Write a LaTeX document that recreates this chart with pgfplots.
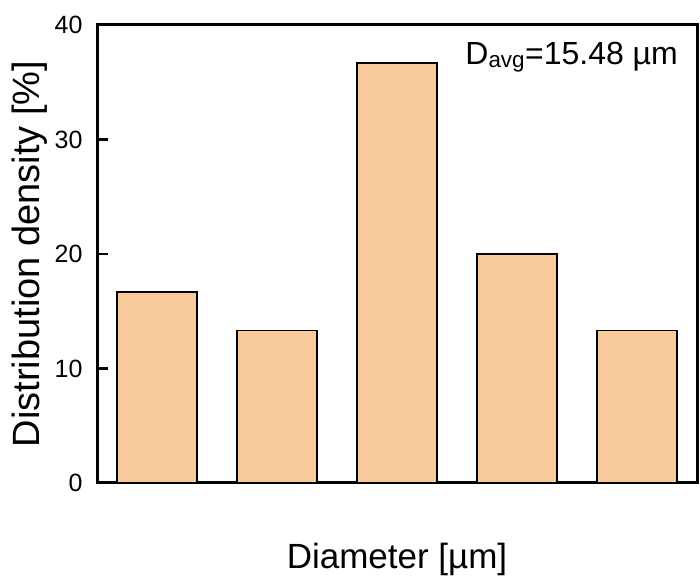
\documentclass[border=0pt]{standalone}
\usepackage{pgfplots}
\pgfplotsset{compat=1.18}
\usepackage{fontspec}
\setmainfont{Liberation Sans}
\definecolor{barfill}{HTML}{F8C99B}
\begin{document}
\begin{tikzpicture}[x=1pt,y=1pt]
\begin{axis}[
  scale only axis,
  width=600pt, height=458pt,
  xmin=-0.5, xmax=4.5,
  ymin=0, ymax=40,
  ytick={0,10,20,30,40},
  yticklabels={0,10,20,30,40},
  xtick={0,1,2,3,4},
  xticklabels={12.0\textasciitilde13.4,13.4\textasciitilde14.8,14.9\textasciitilde16.2,16.2\textasciitilde17.6,17.6\textasciitilde19.0},
  major tick length=11pt,
  xmajorticks=false,
  ytick style={black, line width=2.5pt},
  ytick pos=left,
  ytick align=inside,
  axis line style={line width=3pt},
  xticklabel style={font=\fontsize{24}{29}\selectfont, anchor=base, yshift=-27pt},
  yticklabel style={font=\fontsize{25}{30}\selectfont, anchor=east, xshift=-11pt},
  xlabel={Diameter [µm]},
  ylabel={Distribution density [\%]},
  xlabel style={font=\fontsize{35}{42}\selectfont, at={(axis description cs:0.5,-0.1856)}, anchor=base},
  ylabel style={font=\fontsize{38}{45}\selectfont, at={(axis description cs:-0.112,0.5)}, anchor=center},
  ybar, bar width=80pt,
]
\addplot[fill=barfill, draw=black, line width=1.3pt] coordinates {(0,16.67) (1,13.33) (2,36.67) (3,20.0) (4,13.33)};
\node[anchor=east, font=\fontsize{32}{38}\selectfont] at (axis cs:4.37,37.2) {D\textsubscript{avg}=15.48 µm};
\end{axis}
\pgfresetboundingbox
\path ([xshift=-97pt,yshift=-96pt]current axis.south west) rectangle ([xshift=3pt,yshift=25pt]current axis.north east);
\end{tikzpicture}
\end{document}
